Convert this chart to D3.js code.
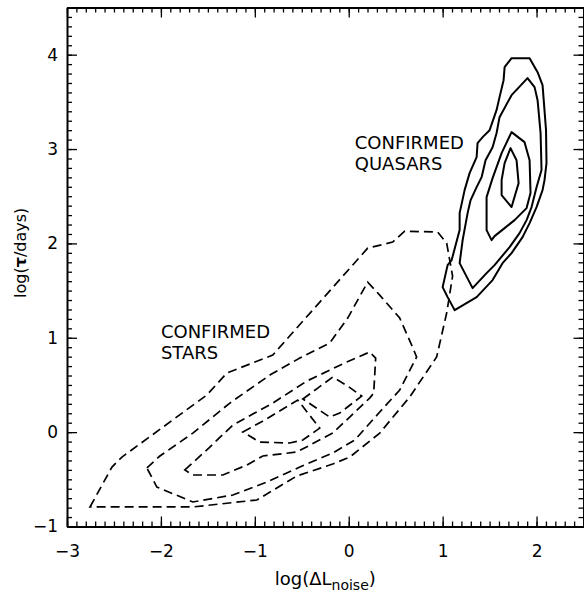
<!DOCTYPE html>
<html lang="en">
<head>
  <meta charset="UTF-8">
  <title>Confirmed stars and quasars: log(tau) vs log(dL noise)</title>
  <script src="https://d3js.org/d3.v7.min.js"></script>
  <style>
    body { margin: 0; background: #fff; }
    svg text { font-family: "DejaVu Sans", Helvetica, Arial, sans-serif; fill: #000; }
  </style>
</head>
<body>
<svg id="chart" width="584" height="598"></svg>

<script>
  // tick labels
  const xMajorTicks = [-3, -2, -1, 0, 1, 2];
  const yMajorTicks = [-1, 0, 1, 2, 3, 4];

  // contour levels of the confirmed stars (dashed), outer to inner, [log dL, log tau]
  const starsLevel1 = [
    [-2.755, -0.793], [-2.521, -0.370], [-2.415, -0.264], [-1.511, 0.393], [-1.298, 0.626],
    [-0.809, 0.817], [-0.734, 0.901], [0.202, 1.950], [0.468, 2.014], [0.596, 2.130],
    [0.947, 2.120], [1.043, 2.003], [1.106, 1.654], [1.043, 1.262], [0.936, 0.796],
    [0.649, 0.372], [0.330, -0.010], [0.011, -0.264], [-0.170, -0.338], [-0.553, -0.465],
    [-0.979, -0.719], [-1.660, -0.793]
  ];
  const starsLevel2 = [
    [-2.149, -0.380], [-2.011, -0.253], [-1.660, -0.010], [-1.266, 0.308], [-0.840, 0.605],
    [-0.521, 0.785], [-0.202, 0.944], [-0.011, 1.209], [0.202, 1.590], [0.330, 1.452],
    [0.543, 1.209], [0.670, 0.923], [0.723, 0.796], [0.543, 0.446], [0.330, 0.213],
    [0.064, -0.084], [-0.170, -0.221], [-0.521, -0.370], [-0.872, -0.529], [-1.234, -0.666],
    [-1.660, -0.740], [-2.043, -0.582]
  ];
  const starsLevel3 = [
    [-1.745, -0.401], [-1.479, -0.158], [-1.234, 0.075], [-0.809, 0.308], [-0.447, 0.541],
    [-0.021, 0.743], [0.223, 0.849], [0.287, 0.785], [0.266, 0.414], [0.223, 0.361],
    [-0.170, -0.010], [-0.553, -0.211], [-0.915, -0.253], [-1.085, -0.349], [-1.340, -0.454],
    [-1.660, -0.454]
  ];
  const starsLevel4a = [
    [-1.128, 0.001], [-0.894, 0.128], [-0.543, 0.340], [-0.309, 0.043], [-0.489, -0.084],
    [-0.628, -0.115], [-0.947, -0.105]
  ];
  const starsLevel4b = [
    [-0.489, 0.351], [-0.330, 0.467], [-0.170, 0.584], [-0.011, 0.488], [0.138, 0.382],
    [-0.096, 0.202], [-0.202, 0.160]
  ];

  // contour levels of the confirmed quasars (solid), outer to inner
  const quasarsLevel1 = [
    [1.734, 3.963], [1.926, 3.963], [2.011, 3.815], [2.064, 3.677], [2.101, 3.200],
    [2.106, 2.851], [2.085, 2.671], [2.064, 2.565], [2.000, 2.385], [1.926, 2.215],
    [1.851, 2.067], [1.734, 1.897], [1.638, 1.791], [1.532, 1.611], [1.362, 1.431],
    [1.128, 1.293], [1.053, 1.431], [1.000, 1.537], [1.053, 1.770], [1.096, 1.823],
    [1.181, 2.141], [1.181, 2.321], [1.234, 2.565], [1.287, 2.745], [1.362, 2.914],
    [1.372, 3.063], [1.426, 3.126], [1.500, 3.200], [1.574, 3.412], [1.606, 3.550],
    [1.649, 3.730], [1.660, 3.868]
  ];
  const quasarsLevel2 = [
    [1.904, 3.751], [1.979, 3.656], [2.011, 3.518], [2.043, 3.168], [2.053, 2.777],
    [2.000, 2.596], [1.947, 2.385], [1.894, 2.247], [1.819, 2.109], [1.713, 1.961],
    [1.553, 1.770], [1.468, 1.685], [1.319, 1.526], [1.181, 1.791], [1.213, 2.035],
    [1.266, 2.321], [1.298, 2.459], [1.362, 2.596], [1.415, 2.702], [1.457, 2.882],
    [1.532, 3.020], [1.574, 3.168], [1.606, 3.338], [1.734, 3.571]
  ];
  const quasarsLevel3 = [
    [1.734, 3.179], [1.872, 3.073], [1.926, 2.882], [1.936, 2.533], [1.894, 2.374],
    [1.766, 2.247], [1.660, 2.162], [1.553, 2.077], [1.521, 2.035], [1.468, 2.141],
    [1.468, 2.321], [1.468, 2.490], [1.532, 2.692], [1.628, 2.957]
  ];
  const quasarsLevel4 = [
    [1.723, 3.010], [1.787, 2.882], [1.809, 2.639], [1.734, 2.385], [1.628, 2.512],
    [1.628, 2.671], [1.660, 2.851]
  ];

  const starContours = [starsLevel1, starsLevel2, starsLevel3, starsLevel4a, starsLevel4b];
  const quasarContours = [quasarsLevel1, quasarsLevel2, quasarsLevel3, quasarsLevel4];

  const margin = {top: 7.5, right: 0.5, bottom: 71.5, left: 67};
  const W = 584, H = 598;
  const width = W - margin.left - margin.right;
  const height = H - margin.top - margin.bottom;

  const svg = d3.select("#chart");
  const g = svg.append("g").attr("transform", `translate(${margin.left},${margin.top})`);

  const x = d3.scaleLinear().domain([-3, 2.5]).range([0, width]);
  const y = d3.scaleLinear().domain([-1, 4.5]).range([height, 0]);

  const minorX = d3.range(-30, 26).map(i => i / 10);
  const minorY = d3.range(-10, 46).map(i => i / 10);

  const fmt = d => d < 0 ? "\u2212" + Math.abs(d) : String(d);

  // axes on four sides, ticks pointing inward
  function addAxis(axisFn, transform, isX, labels) {
    const scale = isX ? x : y;
    const minorG = g.append("g").attr("transform", transform)
      .call(axisFn(scale).tickValues(isX ? minorX : minorY).tickSize(-5).tickFormat(""));
    minorG.select(".domain").remove();
    minorG.selectAll("line").attr("stroke-width", 1.3);

    const majorG = g.append("g").attr("transform", transform)
      .call(axisFn(scale).tickValues(isX ? xMajorTicks : yMajorTicks).tickSizeInner(-10)
        .tickSizeOuter(0).tickPadding(labels ? (isX ? 18 : 9) : 0)
        .tickFormat(labels ? fmt : ""));
    majorG.select(".domain").attr("stroke-width", 2);
    majorG.selectAll("line").attr("stroke-width", 1.3);
    majorG.selectAll("text").style("font-size", "17px")
      .style("font-family", '"DejaVu Sans", Helvetica, Arial, sans-serif');
  }
  addAxis(d3.axisBottom, `translate(0,${height})`, true, true);
  addAxis(d3.axisTop, "translate(0,0)", true, false);
  addAxis(d3.axisLeft, "translate(0,0)", false, true);
  addAxis(d3.axisRight, `translate(${width},0)`, false, false);

  const line = d3.line()
    .x(d => x(d[0]))
    .y(d => y(d[1]))
    .curve(d3.curveLinearClosed);

  g.selectAll(".star")
    .data(starContours)
    .enter().append("path")
      .attr("class", "star")
      .attr("d", line)
      .attr("fill", "none")
      .attr("stroke", "#000")
      .attr("stroke-width", 1.7)
      .attr("stroke-dasharray", "9,5");

  g.selectAll(".quasar")
    .data(quasarContours)
    .enter().append("path")
      .attr("class", "quasar")
      .attr("d", line)
      .attr("fill", "none")
      .attr("stroke", "#000")
      .attr("stroke-width", 2)
      .attr("stroke-linejoin", "round");

  // labels inside the plot
  function addLabel(lx, ly, lines) {
    const t = g.append("text")
      .attr("x", x(lx)).attr("y", y(ly))
      .style("font-size", "18px");
    lines.forEach((s, i) => {
      t.append("tspan").attr("x", x(lx)).attr("dy", i === 0 ? 0 : 21).text(s);
    });
  }
  addLabel(0.064, 3.0, ["CONFIRMED", "QUASARS"]);
  addLabel(-2.0, 1.0, ["CONFIRMED", "STARS"]);

  // axis titles
  const xt = svg.append("text")
    .attr("x", margin.left + x(-0.25)).attr("y", 585)
    .attr("text-anchor", "middle")
    .style("font-size", "18px");
  xt.append("tspan").text("log(\u0394L");
  xt.append("tspan").attr("dy", 5).style("font-size", "14px").text("noise");
  xt.append("tspan").attr("dy", -5).text(")");

  const yt = svg.append("text")
    .attr("transform", `translate(26,${margin.top + y(1.9)}) rotate(-90)`)
    .attr("text-anchor", "middle")
    .style("font-size", "16px");
  yt.append("tspan").text("log(");
  yt.append("tspan").style("font-weight", "bold").text("\u03c4");
  yt.append("tspan").text("/days)");
</script>
</body>
</html>
